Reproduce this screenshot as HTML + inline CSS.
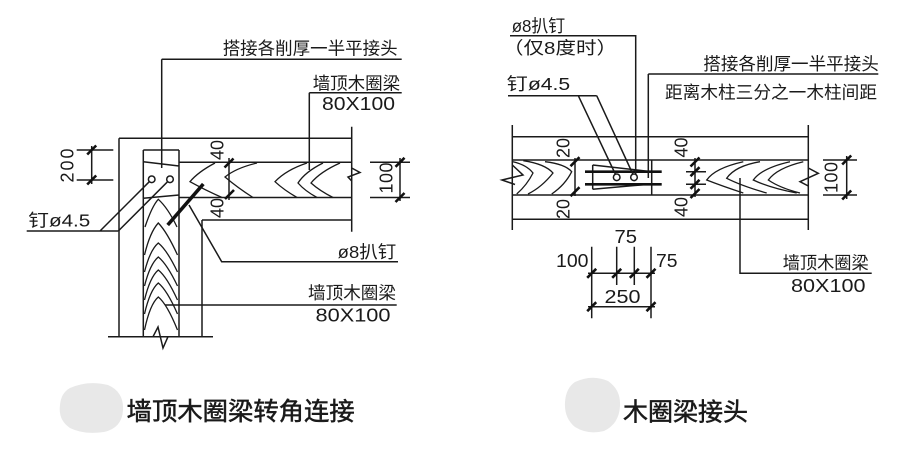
<!DOCTYPE html>
<html><head><meta charset="utf-8"><style>
html,body{margin:0;padding:0;background:#fff;}
svg{display:block;}
text{font-family:"Liberation Sans","Noto Sans CJK SC",sans-serif;fill:#1a1a1a;}
.l{stroke:#1a1a1a;stroke-width:1.5;fill:none;}
.t{stroke:#111;stroke-width:2.6;fill:none;}
.g{stroke:#1a1a1a;stroke-width:1.3;fill:none;}
</style></head><body>
<svg width="918" height="450" viewBox="0 0 918 450" xmlns="http://www.w3.org/2000/svg">
<rect width="918" height="450" fill="#fff"/>

<!-- ============ LEFT DIAGRAM ============ -->
<!-- walls -->
<path class="l" d="M119,138.3 H351.7 M119,138.3 V336.7 M351.7,126.7 V231.7 M202,220 H351.7 M202,220 V336.7 M108,336.7 H213"/>
<!-- post -->
<path class="l" d="M143.3,150 H179 M143.3,150 V336.7 M179,150 V336.7 M143.3,161.7 L179,166 M143.3,198.3 L179,195"/>
<!-- post bottom break -->
<path class="l" d="M153,336.7 L158,327 L163,348 L168,336.7"/>
<!-- beam -->
<path class="l" d="M179,162.3 H351.7 M179,197.5 H351.7 M351.7,168 L360,172.5 L348,177 L351.7,181"/>
<!-- beam grain -->
<path class="g" d="M215,163 Q198,172 190,181.7 Q205,190 222,197.5
M257,163 Q236,168 225,177 Q238,188 253,197.5
M307,163 Q286,170 275,181.7 Q284,190 297,197.5
M323,163 Q305,172 298,183 Q305,191 317,197.5
M340,163 Q320,172 311,183 Q320,191 333,197.5"/>
<!-- post grain -->
<path class="g" d="M145,227 Q152,206 158.3,199.3 Q168,208 177,227
M144.5,255 Q150,232 158.3,223 Q167,232 177.5,255
M144.5,272 Q150,250 158.3,243 Q167,250 177.5,272
M144.5,286 Q150,264 158.3,257 Q167,264 177.5,286
M144.5,300 Q150,277 158.3,270 Q167,277 177.5,300
M144.5,314 Q150,290 158.3,283 Q167,290 177.5,314
M144.5,330 Q150,304 158.3,297 Q167,304 177.5,330"/>
<!-- splice nails -->
<circle cx="151.7" cy="179.3" r="3.3" class="l"/>
<circle cx="170" cy="179.3" r="3.3" class="l"/>
<!-- staple -->
<path d="M167.7,225 L203.3,184" stroke="#111" stroke-width="3.6" fill="none"/>
<!-- leaders -->
<path class="l" d="M161.7,59.3 V168 M161.7,59.3 H401.7"/>
<path class="l" d="M309.3,92.7 V170 M309.3,92.7 H401.7"/>
<path class="l" d="M189,205 L221.7,261.7 H398"/>
<path class="l" d="M165,305 H396.7"/>
<path class="l" d="M26.7,231 H118.3 M100,231 L149.3,181.7 M118.3,231 L167.6,181.7"/>
<!-- dims -->
<path class="l" d="M76.7,150 H113.3 M76.7,180 H113.3 M91.7,146 V184"/>
<path class="t" d="M87.2,154.5 L96.2,145.5 M87.2,184.5 L96.2,175.5"/>
<path class="l" d="M229,158 V200"/>
<path class="t" d="M224.5,167.5 L233.5,158.5 M225,199 L234,190"/>
<path class="l" d="M370,162.3 H410 M370,197.5 H410 M400,158 V201"/>
<path class="t" d="M395.5,166.8 L404.5,157.8 M395.5,202 L404.5,193"/>
<text font-size="18" text-anchor="middle" dominant-baseline="central" transform="translate(67.5,165.5) rotate(-90)" textLength="34">200</text>
<text font-size="18" text-anchor="middle" dominant-baseline="central" transform="translate(217.5,150) rotate(-90)" textLength="20">40</text>
<text font-size="18" text-anchor="middle" dominant-baseline="central" transform="translate(217.5,208) rotate(-90)" textLength="20">40</text>
<text font-size="18" text-anchor="middle" dominant-baseline="central" transform="translate(386.5,178) rotate(-90)" textLength="31">100</text>
<!-- labels -->
<text x="222.7" y="54.5" font-size="17.5" textLength="175" lengthAdjust="spacingAndGlyphs">搭接各削厚一半平接头</text>
<text x="312.7" y="89.5" font-size="17.5" textLength="87.5" lengthAdjust="spacingAndGlyphs">墙顶木圈梁</text>
<text x="322" y="110" font-size="18.5" textLength="73" lengthAdjust="spacingAndGlyphs">80X100</text>
<text x="337.7" y="258" font-size="17.5" textLength="58.5" lengthAdjust="spacingAndGlyphs">ø8扒钉</text>
<text x="308" y="299" font-size="17.5" textLength="88" lengthAdjust="spacingAndGlyphs">墙顶木圈梁</text>
<text x="315.5" y="321.5" font-size="18.5" textLength="75" lengthAdjust="spacingAndGlyphs">80X100</text>
<text x="28.3" y="226.5" font-size="17.5" textLength="62" lengthAdjust="spacingAndGlyphs">钉ø4.5</text>

<!-- ============ RIGHT DIAGRAM ============ -->
<path class="l" d="M512.3,125 V230 M808.3,125 V230 M512.3,136.7 H808.3 M512.3,160 H808.3 M512.3,195 H808.3 M512.3,219.3 H808.3"/>
<!-- breaks -->
<path class="l" d="M512.3,165 L523,175 L502,180 L515,184.5"/>
<path class="l" d="M808.3,168 L818.3,173.3 L800,181.7 L808.3,186"/>
<!-- grain left '>' -->
<path class="g" d="M513,161.7 Q527,165 533,173 Q527,185 516.7,194
M523.3,160.7 Q545,164 553,173 Q542,187 528,194
M545,161.7 Q565,164 571.7,171.7 Q565,185 551.7,194"/>
<!-- grain right '<' -->
<path class="g" d="M743.3,161.7 Q715,168 706.7,180 Q722,186 743.3,193
M760,161.7 Q735,166 726.7,178.3 Q742,186 766.7,193
M790,161.7 Q762,168 753.3,180 Q770,188 796.7,193
M803.3,161.7 Q777,168 768.3,180 Q780,188 800,193"/>
<!-- joint / scarf -->
<path class="l" d="M592.7,165 L651.7,171.7 M592.7,189.3 L651.7,184 M592.7,165 V189.3 M651.7,160 V195"/>
<path d="M585,171.7 H661.7 M585,184.3 H661.7" stroke="#111" stroke-width="2.6" fill="none"/>
<circle cx="616.7" cy="177.3" r="3.3" class="l" fill="#fff"/>
<circle cx="634" cy="177.3" r="3.3" class="l" fill="#fff"/>
<!-- leaders -->
<path class="l" d="M510,35.7 H635.7 V174"/>
<path class="l" d="M508,95.7 H596.7 M578.3,95.7 L615.3,174 M596.7,95.7 L632.8,174"/>
<path class="l" d="M648.3,74 H878.3 M648.3,74 V178"/>
<path class="l" d="M740,178 V273.3 H871.7"/>
<!-- dims beam -->
<path class="l" d="M575,158 V196"/>
<path class="t" d="M570.5,166.2 L579.5,157.2 M570.5,196.2 L579.5,187.2"/>
<path class="l" d="M695,158 V197 M686,171.7 H706 M686,184.3 H706"/>
<path class="t" d="M690.5,166.5 L699.5,157.5 M690.5,176.2 L699.5,167.2 M690.5,188.8 L699.5,179.8 M690.5,198 L699.5,189"/>
<path class="l" d="M823,160 H857 M823,195 H857 M846.7,156 V199"/>
<path class="t" d="M842.2,164.5 L851.2,155.5 M842.2,199.5 L851.2,190.5"/>
<text font-size="18" text-anchor="middle" dominant-baseline="central" transform="translate(563.5,148) rotate(-90)" textLength="20">20</text>
<text font-size="18" text-anchor="middle" dominant-baseline="central" transform="translate(563.5,209) rotate(-90)" textLength="20">20</text>
<text font-size="18" text-anchor="middle" dominant-baseline="central" transform="translate(681.5,147.5) rotate(-90)" textLength="20">40</text>
<text font-size="18" text-anchor="middle" dominant-baseline="central" transform="translate(681.5,207) rotate(-90)" textLength="20">40</text>
<text font-size="18" text-anchor="middle" dominant-baseline="central" transform="translate(831.5,177.5) rotate(-90)" textLength="31">100</text>
<!-- bottom dims -->
<path class="l" d="M591.7,246.7 V318.3 M616.7,246.7 V285 M634.3,246.7 V285 M651,246.7 V318.3 M588,273.3 H655 M588,306.7 H655"/>
<path class="t" d="M587.2,277.8 L596.2,268.8 M612.2,277.8 L621.2,268.8 M629.8,277.8 L638.8,268.8 M646.5,277.8 L655.5,268.8 M587.2,311.2 L596.2,302.2 M646.5,311.2 L655.5,302.2"/>
<text x="614.5" y="243" font-size="18" textLength="22.5" lengthAdjust="spacingAndGlyphs">75</text>
<text x="556" y="267" font-size="18" textLength="32.5" lengthAdjust="spacingAndGlyphs">100</text>
<text x="656" y="267" font-size="18" textLength="21.5" lengthAdjust="spacingAndGlyphs">75</text>
<text x="604.5" y="303" font-size="18" textLength="36" lengthAdjust="spacingAndGlyphs">250</text>
<!-- labels -->
<text x="511.7" y="32" font-size="17.5" textLength="53.5" lengthAdjust="spacingAndGlyphs">ø8扒钉</text>
<text x="503" y="54" font-size="17.5" textLength="114" lengthAdjust="spacingAndGlyphs">（仅8度时）</text>
<text x="506.7" y="90" font-size="17.5" textLength="63.5" lengthAdjust="spacingAndGlyphs">钉ø4.5</text>
<text x="703.3" y="70" font-size="17.5" textLength="175.5" lengthAdjust="spacingAndGlyphs">搭接各削厚一半平接头</text>
<text x="665" y="98.5" font-size="17.5" textLength="212" lengthAdjust="spacingAndGlyphs">距离木柱三分之一木柱间距</text>
<text x="782.7" y="269" font-size="17.5" textLength="86" lengthAdjust="spacingAndGlyphs">墙顶木圈梁</text>
<text x="791" y="292" font-size="18.5" textLength="74.5" lengthAdjust="spacingAndGlyphs">80X100</text>

<!-- ============ CAPTIONS ============ -->
<path d="M70,388 Q88,380 108,385 Q124,392 123,410 Q122,428 104,432 Q84,435 70,428 Q58,420 60,405 Q61,393 70,388 Z" fill="#e8e8e8"/>
<path d="M575,382 Q592,374 608,381 Q621,390 620,406 Q619,424 604,431 Q588,435 575,427 Q564,418 565,402 Q566,388 575,382 Z" fill="#e8e8e8"/>
<text x="126.7" y="420" font-size="25" textLength="228" lengthAdjust="spacingAndGlyphs" stroke="#1a1a1a" stroke-width="0.5">墙顶木圈梁转角连接</text>
<text x="623" y="420.5" font-size="25" textLength="125" lengthAdjust="spacingAndGlyphs" stroke="#1a1a1a" stroke-width="0.5">木圈梁接头</text>
</svg>
</body></html>
